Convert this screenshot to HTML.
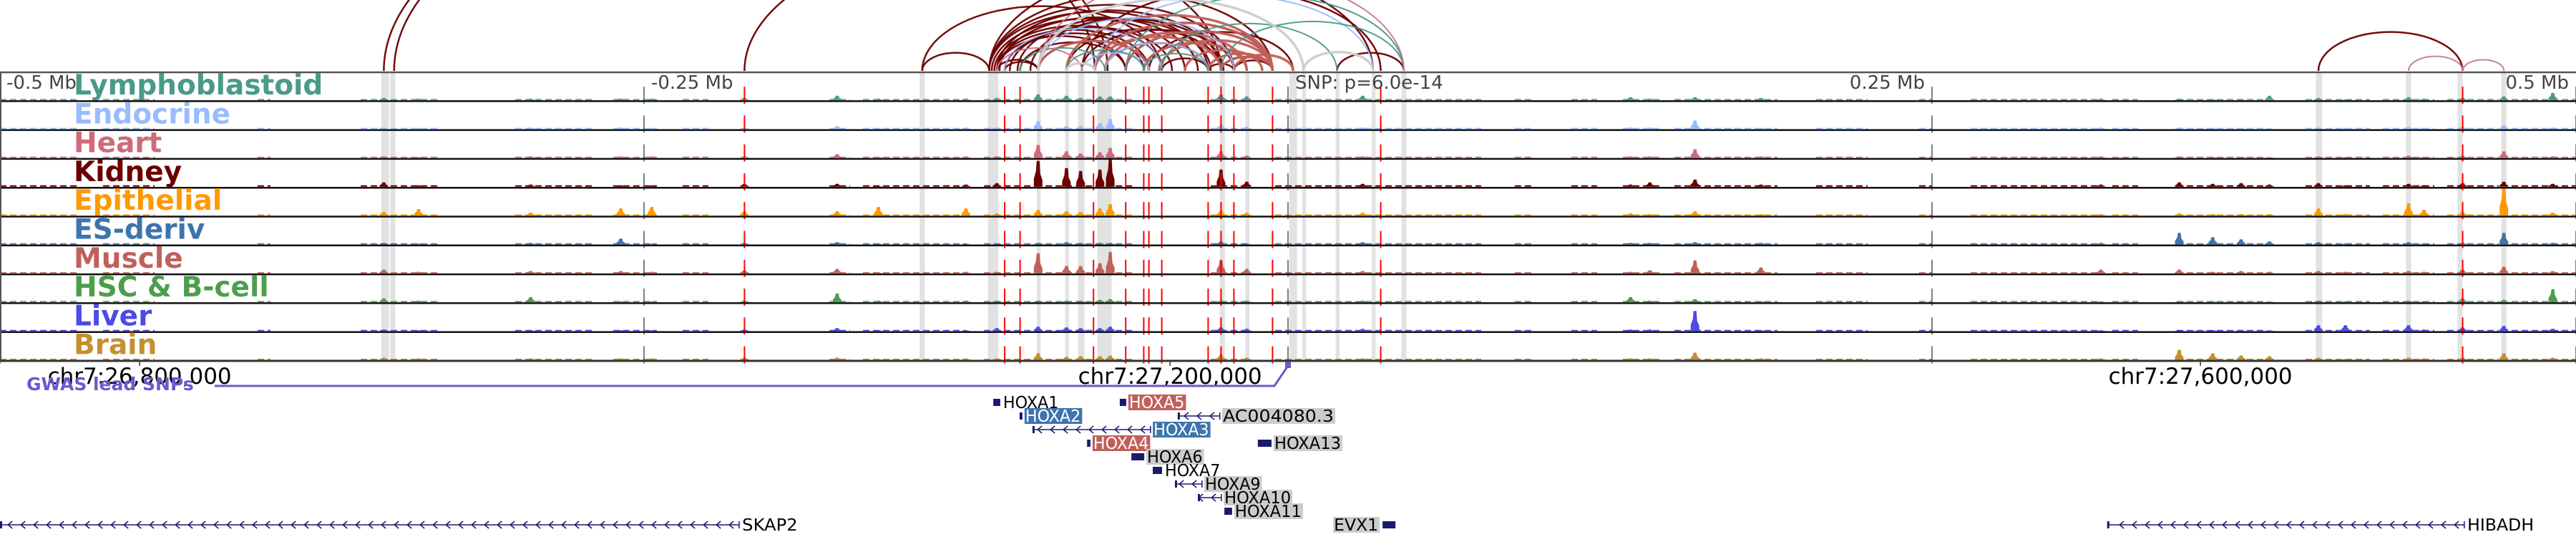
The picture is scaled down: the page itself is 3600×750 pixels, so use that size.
<!DOCTYPE html>
<html><head><meta charset="utf-8"><style>
html,body{margin:0;padding:0;background:#fff;width:3600px;height:750px;overflow:hidden}
svg{display:block}
text{font-family:"DejaVu Sans","Liberation Sans",sans-serif}
</style></head><body>
<svg id="chart" width="3600" height="750" viewBox="0 0 3600 750" xmlns="http://www.w3.org/2000/svg"></svg>
<script>
// ---- data ----
const trackNames = ["Lymphoblastoid","Endocrine","Heart","Kidney","Epithelial","ES-deriv","Muscle","HSC & B-cell","Liver","Brain"];
const trackColors = ["#4a9a8a","#99bbff","#d06a7a","#6b0000","#ff9900","#3d75ad","#c0605a","#4c9e4c","#4b4be6","#c39030"];
// peak positions in kb relative to lead SNP
const peakKb = [-351,-337.5,-294,-259,-247,-211,-175,-159,-125,-113,-97,-86,-80.5,-73,-69,-26,-16,29,133,140.5,158,183.6,315.6,346,359,370,381,400,410.5,435,441,456,472,491];
// per-track peak heights (px)
const hLymph  = [3,2,2,2,2,3,6,2,2,3,8,6,3,5,5,8,5,6,4,2,4,3,2,2,1,1,6,3,1,4,2,3,5,10];
const hEndo   = [2,1,2,2,1,2,4,1,2,2,11,4,4,8,14,6,3,2,2,2,12,1,2,2,1,1,1,2,1,3,1,3,5,2];
const hHeart  = [2,1,2,2,2,2,5,1,2,2,18,9,6,8,14,9,3,2,2,2,12,2,2,2,1,1,1,2,1,3,1,3,9,2];
const hKidney = [6,2,3,2,2,4,4,1,3,5,36,26,22,24,40,24,7,4,3,6,10,3,3,6,4,5,3,5,2,4,2,5,7,4];
const hEpi    = [5,9,4,10,12,6,6,12,10,3,8,6,5,10,16,7,4,4,3,2,6,2,2,3,2,2,2,10,2,17,8,5,40,4];
const hES     = [2,1,2,8,1,2,3,1,1,1,2,3,2,2,2,4,1,3,2,2,3,2,2,16,10,7,4,3,1,3,1,2,16,2];
const hMuscle = [5,2,3,3,2,4,6,1,2,2,28,10,10,14,30,18,6,3,2,4,18,8,5,5,2,3,2,3,2,3,2,5,9,3];
const hHSC    = [5,2,7,1,1,2,12,2,2,2,2,2,2,3,4,2,2,2,7,2,4,1,1,1,1,1,1,2,1,2,1,5,3,18];
const hLiver  = [2,1,1,1,1,2,4,1,1,4,6,5,4,4,6,5,3,3,2,2,28,1,1,1,1,1,1,8,8,8,2,5,7,3];
const hBrain  = [3,2,2,2,2,3,3,1,2,2,9,4,5,5,6,7,3,2,2,2,10,2,2,14,9,6,5,3,1,3,2,3,9,3];
const peakHeights = [hLymph,hEndo,hHeart,hKidney,hEpi,hES,hMuscle,hHSC,hLiver,hBrain];
// low background signal regions [startKb,endKb]
const bgRegions = [[-500,-470],[-460,-440],[-400,-395],[-360,-330],[-300,-270],[-262,-245],[-235,-225],[-178,-170],[-165,-125],[-118,-100],[-98,-60],[-30,-15],[-5,75],[88,95],[110,120],[130,145],[150,190],[205,225],[245,250],[265,315],[320,330],[345,380],[395,420],[425,445],[450,470],[475,500]];
const bgLevel = [1.5,1.5,1.5,2,1.5,1.5,1.5,1.5,1.5,1.5];
// credible SNPs (red lines), kb
const snpKb = [-211,-110,-104,-75.5,-63,-56,-54,-49,-31,-26,-21,-6,36,456];
// grey highlight regions, kb
const highlightKb = [[-352,-349],[-348.5,-346.5],[-143,-141],[-116.5,-112.5],[-97.5,-96],[-86.5,-85],[-81.5,-79],[-74,-68.5],[-26.5,-24.5],[-16.5,-15],[0.5,3.5],[5.5,7],[18.5,20],[32.5,34],[44,46],[399,401.5],[434,436],[454,456],[471,473]];
// loops [startKb,endKb,typeIndex]
const arcStart = [-351,-347,-211,-142,-116,-116,-114,-113,-113,-116,-110,-104,-113,-97,-86,-80,-75,-71,-63,-56,-54,-49,-26,-21,-31,19,-116,-80,-142,-113,-110,400,-115,-112,-108,-105,-100,
  -86,-75,-71,-63,-56,-31,-26,-21,-75,-97,-50,-40,
  -110,-97,-75,-71,-80, -104,-63,-49,-26,-86,-56, -113,-97,435,456, -97,6,-86];
const arcEnd = [-75,-70,-26,-49,-21,-31,-49,-54,-63,-6,-56,-63,-26,-54,-26,-21,-6,-31,-6,-16,2,-31,-6,-6,-21,45,33,36,-116,-97,-97,456,-40,-35,-45,-30,-25,
  -6,-6,-16,-6,-16,-6,-6,2,-26,-54,-6,-10,
  -49,-21,33,-31,-54, -71,45,19,45,-56,-31, -80,45,456,472, 6,33,-75];
const arcType = [0,0,0,0,0,0,0,0,0,0,0,0,0,0,0,0,0,0,0,0,0,0,0,0,0,0,0,0,0,0,0,0,0,0,0,0,0,
  1,1,1,1,1,1,1,1,1,1,1,1, 2,2,2,2,2, 3,3,3,3,3,3, 4,4,4,4, 5,5,5];
const arcColors = ["#6b0000","#c0605a","#99bbff","#4a9a8a","#c87890","#cccccc"];
const arcWidths = [2.5,3.5,2,2,2,3.5];
// relative axis ticks
const relTicks = [-500,-250,0,250,500];
const relTickLabels = ["-0.5 Mb","-0.25 Mb","SNP: p=6.0e-14","0.25 Mb","0.5 Mb"];
// genomic axis ticks (bp)
const chrTicks = [26800000,27200000,27600000];
const chrTickLabels = ["chr7:26,800,000","chr7:27,200,000","chr7:27,600,000"];
const snpPos = 27245800;
// genes
const geneNames = ["HOXA1","HOXA2","HOXA3","HOXA4","HOXA5","AC004080.3","HOXA6","HOXA7","HOXA9","HOXA10","HOXA11","HOXA13","EVX1","SKAP2","HIBADH"];
const geneStart = [-114.4,-104.2,-99.2,-78,-65.3,-42.8,-60.8,-52.5,-43.9,-35,-24.7,-11.7,36.7,-500,318];
const geneEnd   = [-111.7,-103.1,-53.3,-76.7,-62.8,-26.4,-55.8,-48.9,-33.3,-25.8,-21.7,-6.4,41.7,-213,456.7];
const geneRow   = [0,1,2,3,0,1,4,5,6,7,8,3,9,9,9];
const geneStyle = [0,2,2,3,3,1,1,0,1,1,1,1,1,0,0];

// ---- scales ----
const svg = document.getElementById('chart');
const NS = "http://www.w3.org/2000/svg";
const xKb = kb => 1800 + kb*3.6;
const xBp = bp => xKb((bp - snpPos)/1000);
const T0 = 101, TH = 40.3;
const trackTop = i => T0 + i*TH;
function el(tag, attrs, parent){const e=document.createElementNS(NS,tag);for(const k in attrs)e.setAttribute(k,attrs[k]);(parent||svg).appendChild(e);return e;}

// highlights
const gHi = el('g',{});


highlightKb.forEach(r=>{
  const x1=xKb(r[0]),x2=xKb(r[1]);
  const e=el('rect',{x:x1,y:T0,width:Math.max(4,x2-x1),height:trackTop(10)-T0,fill:'#e2e2e2'},gHi);
  
  
});

// arcs
const gArc = el('g',{});


arcStart.forEach((s,i)=>{
  const x1=xKb(s),x2=xKb(arcEnd[i]);const w=x2-x1;const ry=w*0.27;const by=99;
  const e=el('path',{d:`M${x1},${by} A${w/2},${ry} 0 0 1 ${x2},${by}`,fill:'none',stroke:arcColors[arcType[i]],'stroke-width':arcWidths[arcType[i]],opacity:0.95},gArc);
  
  
});

// tracks
trackNames.forEach((name,t)=>{
  const top=trackTop(t), base=trackTop(t+1)-1.5;
  const g=el('g',{});
  
  
  bgRegions.forEach(r=>{
    const e=el('line',{x1:xKb(r[0]),x2:xKb(r[1]),y1:base-bgLevel[t]/2,y2:base-bgLevel[t]/2,stroke:trackColors[t],'stroke-width':bgLevel[t],'stroke-dasharray':'9 5'},g);
    
    
  });
  peakKb.forEach((p,j)=>{
    const h=peakHeights[t][j]; const x=xKb(p);
    const e=el('polygon',{points:`${x-6},${base} ${x-6},${base-h*0.3} ${x-3},${base-h*0.6} ${x-2},${base-h} ${x+2},${base-h} ${x+3},${base-h*0.5} ${x+6},${base-h*0.25} ${x+6},${base}`,fill:trackColors[t]},g);
    
    
  });
  relTicks.forEach(k=>{
    const e=el('line',{x1:xKb(k),x2:xKb(k),y1:top+20,y2:top+44,stroke:'#555','stroke-width':1.5},g);
    
    
  });
  snpKb.forEach(k=>{
    const e=el('line',{x1:xKb(k),x2:xKb(k),y1:top+20,y2:top+44,stroke:'#ff0000','stroke-width':2},g);
    
    
  });
  const bl=el('line',{x1:0,x2:3600,y1:top,y2:top,stroke:t===0?'#555':'#111','stroke-width':2.5},g);
  
  
  const lab=el('text',{x:103,y:top+31,'font-size':39,'font-weight':'bold',fill:trackColors[t]},g);
  lab.textContent=name;
  
  
});
const bottom=el('line',{x1:0,x2:3600,y1:trackTop(10),y2:trackTop(10),stroke:'#333','stroke-width':3});


const lb=el('line',{x1:1,x2:1,y1:T0,y2:trackTop(10),stroke:'#555','stroke-width':2});



// relative tick labels
relTicks.forEach((k,i)=>{
  const x=xKb(k); let anchor='start', tx=x+10;
  if(k>0){anchor='end';tx=x-10;}
  if(k===-500){tx=9;}
  const e=el('text',{x:tx,y:124,'font-size':26,fill:'#444','text-anchor':anchor});
  e.textContent=relTickLabels[i];
  
  
});

// genomic axis ticks
chrTicks.forEach((b,i)=>{
  const x=xBp(b);
  const tk=el('line',{x1:x,x2:x,y1:trackTop(10),y2:trackTop(10)+7,stroke:'#333','stroke-width':1.5});
  
  
  const e=el('text',{x:x,y:536,'font-size':31,fill:'#000','text-anchor':'middle'});
  e.textContent=chrTickLabels[i];
  
  
});

// GWAS track
const gw=el('polyline',{points:`300,539 ${xKb(-5.3)},539 ${xKb(0)},511`,fill:'none',stroke:'#6a5acd','stroke-width':3});


const gs=el('rect',{x:xKb(0)-4,y:505,width:8,height:9,fill:'#6a5acd'});


const gl=el('text',{x:37,y:545,'font-size':25,'font-weight':'bold',fill:'#6a5acd'});
gl.textContent='GWAS lead SNPs';



// genes
const boxFill=[null,'#cccccc','#3d75ad','#c0605a'];
const txtFill=['#000','#000','#fff','#fff'];
geneNames.forEach((n,i)=>{
  const g=el('g',{});
  
  
  const y=562+geneRow[i]*19;
  const x1=xKb(geneStart[i]), x2=xKb(geneEnd[i]);
  el('line',{x1:x1,x2:x2,y1:y,y2:y,stroke:'#1a1a6e','stroke-width':1.5},g);
  if(x2-x1>25){
    for(let cx=x2-8;cx>x1+6;cx-=18){
      el('polyline',{points:`${cx},${y-5} ${cx-6},${y} ${cx},${y+5}`,fill:'none',stroke:'#1a1a6e','stroke-width':1.5},g);
    }
    el('rect',{x:x1,y:y-5,width:3,height:10,fill:'#1a1a6e'},g);
    el('rect',{x:x2-1,y:y-5,width:1.5,height:10,fill:'#1a1a6e'},g);
  } else {
    el('rect',{x:x1,y:y-5,width:Math.max(3,x2-x1),height:10,fill:'#1a1a6e'},g);
  }
  const left = n==='EVX1';
  const fs=23; const tw=n.length*15.5;
  const tx = left ? x1-4-tw-2 : x2+4;
  if(boxFill[geneStyle[i]]){
    el('rect',{x:tx-1,y:y-11,width:tw+3,height:22,fill:boxFill[geneStyle[i]]},g);
  }
  const t=el('text',{x:tx,y:y+8,'font-size':fs,fill:txtFill[geneStyle[i]],textLength:tw,lengthAdjust:'spacingAndGlyphs'},g);
  t.textContent=n;
  
  
});
</script>
</body></html>
